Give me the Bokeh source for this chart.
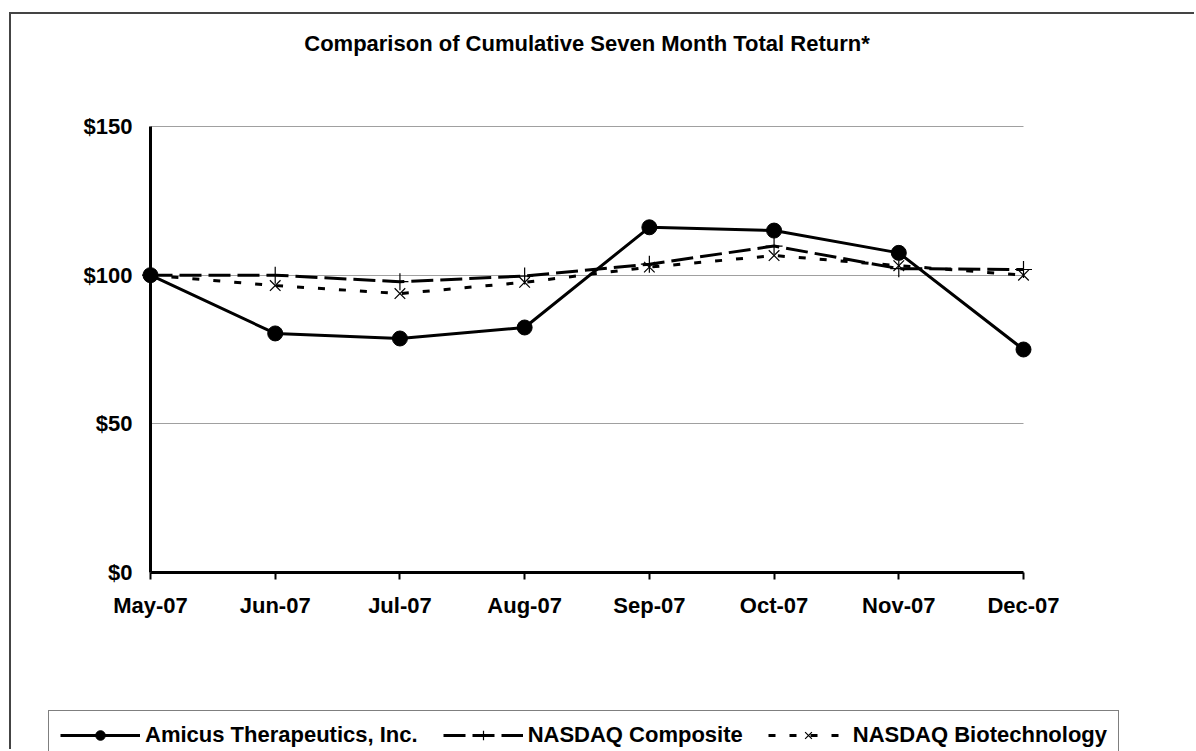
from bokeh.plotting import figure
from bokeh.models import (Range1d, FixedTicker, Legend, LegendItem, Label)
from bokeh.embed import file_html
from bokeh.resources import INLINE

months = ["May-07", "Jun-07", "Jul-07", "Aug-07", "Sep-07", "Oct-07", "Nov-07", "Dec-07"]
amicus = [100, 80.4, 78.7, 82.4, 116.1, 115.0, 107.5, 75.0]
nasdaq_composite = [100, 100.0, 97.8, 99.7, 103.7, 109.8, 102.2, 101.9]
nasdaq_biotech = [100, 96.5, 93.8, 97.6, 102.7, 106.6, 103.2, 100.0]
y_ticks = [0, 50, 100, 150]
y_tick_labels = ["$0", "$50", "$100", "$150"]
title_text = "Comparison of Cumulative Seven Month Total Return*"
series_names = ["Amicus Therapeutics, Inc.", "NASDAQ Composite", "NASDAQ Biotechnology"]

FONT = "Liberation Sans"
xs = list(range(len(months)))

W, H = 1185, 737
# frame covers whole canvas; plot area placed inside via ranges
FL, FR, FT, FB = 139, 1012, 112, 558   # canvas px of x=0, x=7, y=150, y=0
x_max = len(months) - 1
y_max = y_ticks[-1]
kx = (FR - FL) / x_max
ky = (FB - FT) / y_max
x_range = Range1d(-FL / kx, x_max + (W - FR) / kx)
y_range = Range1d(-(H - FB) / ky, y_max + FT / ky)

p = figure(width=W, height=H, output_backend="svg", toolbar_location=None,
           x_range=x_range, y_range=y_range,
           min_border_left=0, min_border_right=0, min_border_top=0, min_border_bottom=0)
p.outline_line_color = None
p.background_fill_color = "white"
p.border_fill_color = "white"
p.styles = {"margin-left": "9px", "margin-top": "12px",
            "border-left": "2px solid #444444", "border-top": "2px solid #444444"}

# axes (fixed inside frame)
p.xaxis.fixed_location = 0
p.yaxis.fixed_location = 0
p.xaxis.bounds = (0, x_max)
p.yaxis.bounds = (0, y_max)
p.xaxis.ticker = FixedTicker(ticks=xs)
p.xaxis.major_label_overrides = {i: m for i, m in enumerate(months)}
p.yaxis.ticker = FixedTicker(ticks=y_ticks)
p.yaxis.major_label_overrides = {t: l for t, l in zip(y_ticks, y_tick_labels)}
for ax in (p.xaxis, p.yaxis):
    ax.axis_line_width = 3
    ax.axis_line_color = "black"
    ax.major_label_text_font = FONT
    ax.major_label_text_font_style = "bold"
    ax.major_label_text_font_size = "22px"
    ax.major_label_text_color = "black"
    ax.minor_tick_line_color = None
p.xaxis.major_tick_out = 7
p.xaxis.major_tick_in = 0
p.xaxis.major_tick_line_width = 2
p.xaxis.major_label_standoff = 13
p.yaxis.major_tick_out = 0
p.yaxis.major_tick_in = 0
p.yaxis.major_tick_line_color = None
p.yaxis.major_label_standoff = 18

p.xgrid.grid_line_color = None
grid_ok = True
try:
    p.ygrid.cross_bounds = (0, x_max)
    p.ygrid.grid_line_color = "#a0a0a0"
    p.ygrid.grid_line_width = 1
except Exception:
    grid_ok = False
    p.ygrid.grid_line_color = None
if not grid_ok:
    gy = y_ticks[1:]
    p.segment(x0=[0] * len(gy), x1=[x_max] * len(gy), y0=gy, y1=gy,
              line_color="#a0a0a0", line_width=1)

# series
r1l = p.line(xs, amicus, line_color="black", line_width=3)
r1m = p.scatter(xs, amicus, marker="circle", size=15, fill_color="black", line_color="black")
r2l = p.line(xs, nasdaq_composite, line_color="black", line_width=3, line_dash="22 7")
r2m = p.scatter(xs, nasdaq_composite, marker="cross", size=17, line_color="black", line_width=1.2)
r3l = p.line(xs, nasdaq_biotech, line_color="black", line_width=3, line_dash="7 14")
r3m = p.scatter(xs, nasdaq_biotech, marker="x", size=15, line_color="black", line_width=1.2)

# title
p.add_layout(Label(x=x_max / 2, y=y_max + (FT - 29) / ky, text=title_text, text_align="center",
                   text_baseline="middle", text_font=FONT, text_font_style="bold",
                   text_font_size="22px", text_color="black"))

legend = Legend(items=[LegendItem(label=series_names[0], renderers=[r1l, r1m]),
                       LegendItem(label=series_names[1], renderers=[r2l, r2m]),
                       LegendItem(label=series_names[2], renderers=[r3l, r3m])],
                orientation="horizontal", location=(37, -9),
                label_text_font=FONT, label_text_font_style="bold", label_text_font_size="22px",
                label_text_color="black", glyph_width=80, glyph_height=24, label_height=24,
                label_standoff=5, spacing=25, padding=11, margin=0,
                border_line_color="black", border_line_width=1.5,
                background_fill_color="white", background_fill_alpha=1)
p.add_layout(legend, "center")

open("out.html", "w").write(file_html(p, INLINE))
